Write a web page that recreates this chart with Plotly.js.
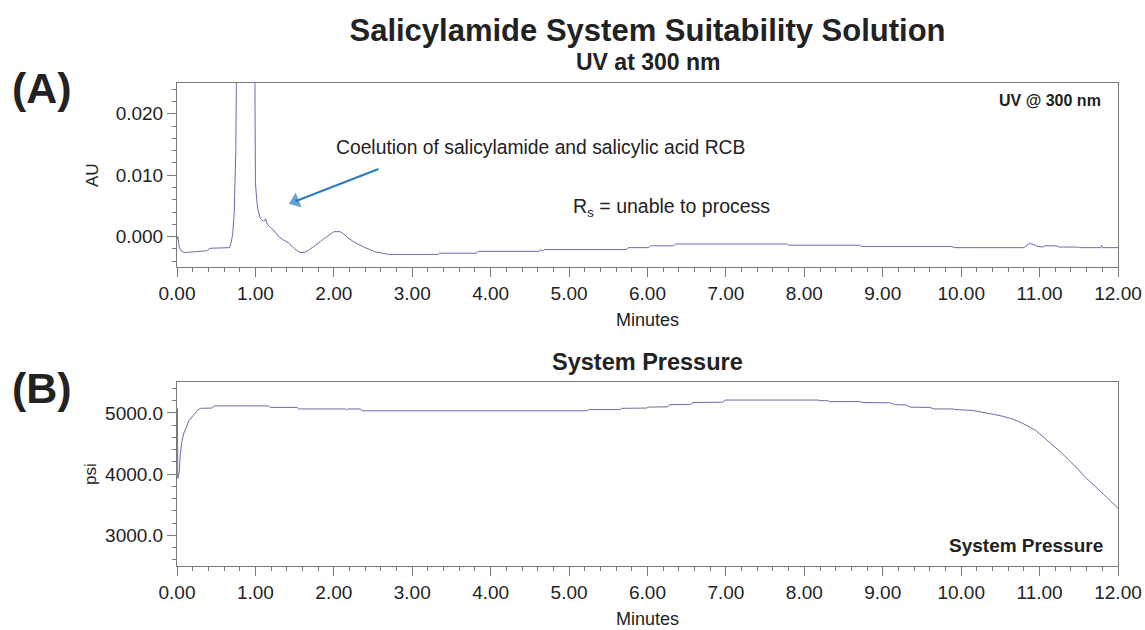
<!DOCTYPE html>
<html>
<head>
<meta charset="utf-8">
<script src="https://cdn.plot.ly/plotly-3.0.1.min.js"></script>
<style>html,body{margin:0;padding:0;background:#fff;}#chart{width:1145px;height:630px;}</style>
</head>
<body>
<div id="chart"></div>
<script>
// UV trace at 300 nm (minutes, AU)
const uvTime = [0.00,0.01,0.03,0.06,0.10,0.21,0.30,0.38,0.42,0.67,0.69,0.71,0.73,0.75,0.76,0.77,0.85,0.93,0.99,0.995,
  1.00,1.02,1.03,1.06,1.10,1.12,1.13,1.15,1.18,1.22,1.29,1.35,1.42,1.50,1.57,1.62,1.68,1.76,1.83,1.89,1.95,
  2.00,2.08,2.13,2.18,2.27,2.40,2.53,2.62,2.70,3.33,3.35,3.82,3.84,4.62,4.64,4.66,4.68,5.73,5.76,6.01,6.04,
  6.33,6.36,7.78,7.80,8.70,8.73,9.88,9.91,10.80,10.87,10.93,10.97,11.03,11.07,11.22,11.25,11.48,11.51,11.78,11.79,11.80,12.00];
const uvAbs = [-0.0004,0.0000,-0.0018,-0.0024,-0.0026,-0.0025,-0.0024,-0.0023,-0.0019,-0.0018,-0.0010,0.0004,0.0040,0.0140,0.0300,0.0450,0.1200,0.0800,0.0350,0.0120,
  0.0088,0.0055,0.0045,0.0030,0.0025,0.0026,0.0029,0.0020,0.0017,0.0012,0.0001,-0.0005,-0.0010,-0.0020,-0.0026,-0.0026,-0.0022,-0.0015,-0.0008,-0.0002,0.0004,
  0.0008,0.0008,0.0004,-0.0002,-0.0010,-0.0018,-0.0025,-0.0027,-0.0029,-0.0029,-0.0027,-0.0027,-0.0024,-0.0024,-0.0021,-0.0024,-0.0021,-0.0021,-0.0018,-0.0018,-0.0015,
  -0.0015,-0.0012,-0.0012,-0.0014,-0.0014,-0.0016,-0.0016,-0.0018,-0.0018,-0.0011,-0.0013,-0.0016,-0.0017,-0.0015,-0.0015,-0.0017,-0.0017,-0.0018,-0.0018,-0.0014,-0.0018,-0.0018];

// System pressure trace (minutes, psi)
const psiTime = [0.00,0.005,0.01,0.02,0.03,0.04,0.06,0.085,0.10,0.12,0.15,0.19,0.23,0.26,0.30,0.45,0.47,1.17,1.19,1.53,1.55,2.15,2.16,2.18,2.34,2.36,
  5.23,5.25,5.65,5.67,5.99,6.01,6.26,6.28,6.55,6.57,6.96,6.99,8.18,8.20,8.30,8.32,8.70,8.75,9.10,9.15,9.30,9.35,9.60,9.65,9.90,9.92,
  10.15,10.30,10.50,10.66,10.80,10.95,11.10,11.27,11.44,11.60,11.78,12.00];
const psiValue = [5000,5070,3930,4000,4040,4300,4520,4660,4700,4770,4870,4930,5000,5040,5075,5080,5115,5115,5090,5090,5065,5065,5050,5065,5065,5035,
  5035,5055,5055,5075,5080,5095,5100,5135,5140,5170,5175,5210,5210,5200,5200,5185,5185,5170,5165,5135,5130,5095,5090,5065,5065,5055,
  5040,5005,4955,4900,4820,4715,4550,4360,4145,3930,3715,3445];

// Callout arrow (tail -> head), in minutes / AU
const arrowTime = [2.57, 1.51];
const arrowAbs = [0.0110, 0.00576];

const FONT = 'Liberation Sans, Arial, Helvetica, sans-serif';
const LINE = '#6b6ca8';
const AXC = '#7a7a7a';
const ARROW = '#2b7bbd';

function xax(anchor) {
  return {
    anchor: anchor, domain: [0, 1], range: [0, 12], dtick: 1, tick0: 0, tickformat: '.2f',
    showline: true, mirror: true, linecolor: AXC, linewidth: 1, showgrid: false, zeroline: false,
    ticks: 'outside', ticklen: 9, tickcolor: AXC, tickwidth: 1,
    minor: {dtick: 0.2, ticks: 'outside', ticklen: 4, tickcolor: AXC, tickwidth: 1, showgrid: false},
    tickfont: {family: FONT, size: 19, color: '#222'},
    title: {text: 'Minutes', font: {family: FONT, size: 18, color: '#222'}, standoff: 10},
    fixedrange: true
  };
}

const traces = [
  {x: uvTime, y: uvAbs, xaxis: 'x', yaxis: 'y', type: 'scatter', mode: 'lines',
   line: {color: LINE, width: 1}, name: 'UV @ 300 nm', hoverinfo: 'x+y'},
  {x: psiTime, y: psiValue, xaxis: 'x2', yaxis: 'y2', type: 'scatter', mode: 'lines',
   line: {color: LINE, width: 1}, name: 'System Pressure', hoverinfo: 'x+y'},
  {x: arrowTime, y: arrowAbs, xaxis: 'x', yaxis: 'y', type: 'scatter', mode: 'lines+markers',
   line: {color: ARROW, width: 2},
   marker: {symbol: ['circle', 'triangle-up'], size: [0, 14], angleref: 'previous', color: ARROW, line: {width: 0}},
   hoverinfo: 'skip', name: 'callout'}
];

const layout = {
  width: 1145, height: 630,
  margin: {l: 177, r: 27, t: 83, b: 64},
  paper_bgcolor: '#fff', plot_bgcolor: '#fff',
  showlegend: false,
  font: {family: FONT, color: '#222'},
  title: {text: '<b>Salicylamide System Suitability Solution</b>', xref: 'paper', x: 0.5, xanchor: 'center',
          yref: 'container', y: 1 - 30 / 630, yanchor: 'middle', font: {family: FONT, size: 31, color: '#222'}},
  xaxis: xax('y'),
  xaxis2: xax('y2'),
  yaxis: {
    anchor: 'x', domain: [0.6184, 1], range: [-0.005, 0.025], dtick: 0.01, tick0: 0, tickformat: '.3f',
    showline: true, mirror: true, linecolor: AXC, linewidth: 1, showgrid: false, zeroline: false,
    ticks: 'outside', ticklen: 9, tickcolor: AXC,
    minor: {dtick: 0.002, ticks: 'outside', ticklen: 4, tickcolor: AXC, showgrid: false},
    tickfont: {family: FONT, size: 19, color: '#222'},
    title: {text: 'AU', font: {family: FONT, size: 17, color: '#222'}, standoff: 12},
    fixedrange: true
  },
  yaxis2: {
    anchor: 'x2', domain: [0, 0.3803], range: [2500, 5500], dtick: 1000, tick0: 0, tickformat: '.1f',
    showline: true, mirror: true, linecolor: AXC, linewidth: 1, showgrid: false, zeroline: false,
    ticks: 'outside', ticklen: 9, tickcolor: AXC,
    minor: {dtick: 200, ticks: 'outside', ticklen: 4, tickcolor: AXC, showgrid: false},
    tickfont: {family: FONT, size: 19, color: '#222'},
    title: {text: 'psi', font: {family: FONT, size: 17, color: '#222'}, standoff: 4},
    fixedrange: true
  },
  annotations: [
    {text: '<b>UV at 300 nm</b>', xref: 'paper', yref: 'paper', x: 0.5, y: 1.0435,
     xanchor: 'center', yanchor: 'middle', showarrow: false, font: {family: FONT, size: 23, color: '#222'}},
    {text: '<b>System Pressure</b>', xref: 'paper', yref: 'paper', x: 0.5, y: 0.4224,
     xanchor: 'center', yanchor: 'middle', showarrow: false, font: {family: FONT, size: 23.5, color: '#222'}},
    {text: '<b>(A)</b>', xref: 'paper', yref: 'paper', x: -0.1435, y: 0.9896,
     xanchor: 'center', yanchor: 'middle', showarrow: false, font: {family: FONT, size: 43, color: '#222'}},
    {text: '<b>(B)</b>', xref: 'paper', yref: 'paper', x: -0.1435, y: 0.3685,
     xanchor: 'center', yanchor: 'middle', showarrow: false, font: {family: FONT, size: 43, color: '#222'}},
    {text: '<b>UV @ 300 nm</b>', xref: 'x domain', yref: 'y domain', x: 0.984, y: 0.904,
     xanchor: 'right', yanchor: 'middle', showarrow: false, font: {family: FONT, size: 16, color: '#222'}},
    {text: '<b>System Pressure</b>', xref: 'x2 domain', yref: 'y2 domain', x: 0.986, y: 0.114,
     xanchor: 'right', yanchor: 'middle', showarrow: false, font: {family: FONT, size: 19, color: '#222'}},
    {text: 'Coelution of salicylamide and salicylic acid RCB', xref: 'x', yref: 'y', x: 4.64, y: 0.01447,
     xanchor: 'center', yanchor: 'middle', showarrow: false, font: {family: FONT, size: 19.3, color: '#222'}},
    {text: 'R<sub>s</sub> = unable to process', xref: 'x', yref: 'y', x: 6.30, y: 0.00475,
     xanchor: 'center', yanchor: 'middle', showarrow: false, font: {family: FONT, size: 19.5, color: '#222'}}
  ]
};

Plotly.newPlot('chart', traces, layout, {displayModeBar: false, staticPlot: true});
</script>
</body>
</html>
